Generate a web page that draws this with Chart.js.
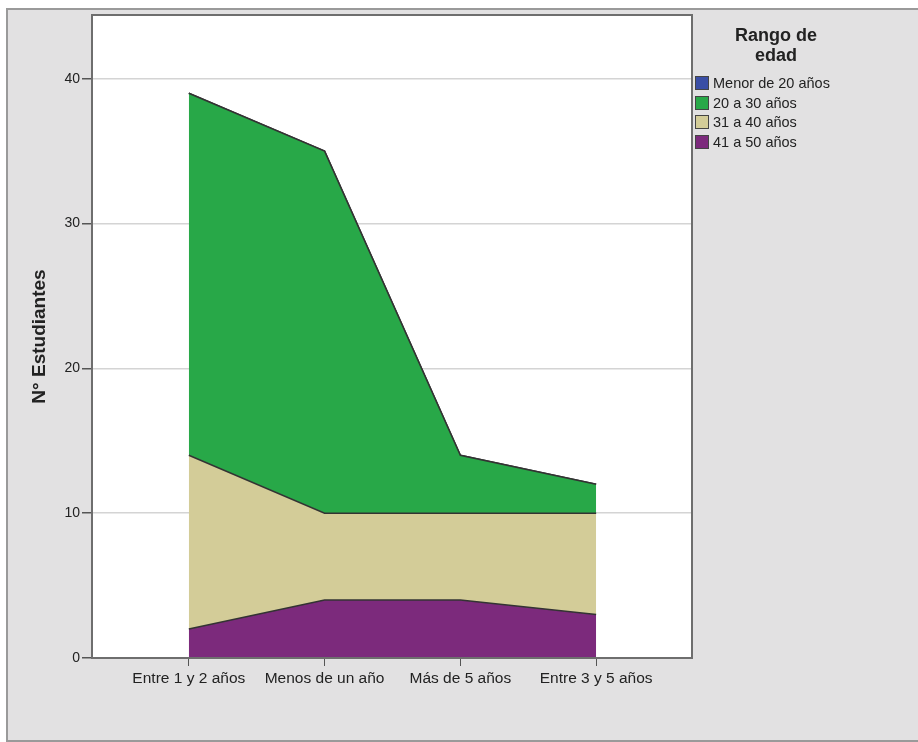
<!DOCTYPE html>
<html>
<head>
<meta charset="utf-8">
<script src="https://cdn.jsdelivr.net/npm/chart.js@4"></script>
<style>
  body { margin: 0; background: #fff; }
  #panel {
    position: absolute; left: 6px; top: 8px; width: 910px; height: 730px;
    background: #e2e1e2; border-top: 2px solid #9a9a9a; border-left: 2px solid #9a9a9a;
    border-bottom: 2px solid #9a9a9a;
  }
  #legend {
    position: absolute; left: 687px; top: 15px; width: 220px;
    font-family: "Liberation Sans", Arial, sans-serif; color: #222;
  }
  #legend .title { width: 162px; text-align: center; font-weight: bold; font-size: 18px; line-height: 20px; margin-bottom: 8px; }
  #legend .item { height: 19.7px; font-size: 14.5px; display: flex; align-items: center; }
  #legend .box { width: 12px; height: 12px; border: 1px solid #444; margin-right: 4px; }
</style>
</head>
<body>
<div id="panel">
  <canvas id="myChart" width="910" height="730"></canvas>
  <div id="legend"></div>
</div>
<script>
// datos
var categorias = ["Entre 1 y 2 años", "Menos de un año", "Más de 5 años", "Entre 3 y 5 años"];
var menor20 = [0, 0, 0, 0];
var de20a30 = [25, 25, 4, 2];
var de31a40 = [12, 6, 6, 7];
var de41a50 = [2, 4, 4, 3];
var ticksY = [0, 10, 20, 30, 40];

var series = [
  { label: "41 a 50 años", data: de41a50, color: "rgb(124, 42, 124)" },
  { label: "31 a 40 años", data: de31a40, color: "rgb(211, 204, 152)" },
  { label: "20 a 30 años", data: de20a30, color: "rgb(40, 168, 72)" },
  { label: "Menor de 20 años", data: menor20, color: "rgb(58, 78, 165)" }
];

var fondoPlot = {
  id: "fondoPlot",
  beforeDraw: function (chart) {
    var a = chart.chartArea, c = chart.ctx;
    c.save();
    c.fillStyle = "#fff";
    c.fillRect(a.left, a.top, a.right - a.left, a.bottom - a.top);
    c.restore();
  },
  afterDraw: function (chart) {
    var a = chart.chartArea, c = chart.ctx;
    c.save();
    c.strokeStyle = "#6e6e6e";
    c.lineWidth = 2;
    c.strokeRect(a.left, a.top, a.right - a.left, a.bottom - a.top);
    c.restore();
  }
};

var ctx = document.getElementById("myChart").getContext("2d");
var myChart = new Chart(ctx, {
  type: "line",
  data: {
    datasets: series.map(function (s, i) {
      return {
        label: s.label,
        data: s.data.map(function (v, j) { return { x: j, y: v }; }),
        backgroundColor: s.color,
        borderColor: "#333",
        borderWidth: 1.5,
        pointRadius: 0,
        tension: 0,
        fill: i === 0 ? "origin" : "-1"
      };
    })
  },
  options: {
    responsive: false,
    animation: false,
    layout: { padding: { top: 5, right: 226, left: 0, bottom: 0 } },
    plugins: { legend: { display: false }, tooltip: { enabled: false } },
    scales: {
      x: {
        type: "linear",
        min: -0.713,
        max: 3.706,
        afterBuildTicks: function (scale) {
          scale.ticks = categorias.map(function (c, i) { return { value: i }; });
        },
        afterFit: function (scale) {
          scale.height = 82;
          scale.paddingLeft = 0;
          scale.paddingRight = 0;
        },
        ticks: {
          callback: function (v) { return categorias[v]; },
          color: "#222",
          maxRotation: 0,
          autoSkip: false,
          padding: 3,
          font: { family: "Liberation Sans, Arial", size: 15.5 }
        },
        grid: { drawOnChartArea: false, drawTicks: true, tickLength: 8, color: "#555" },
        border: { display: true, color: "#6e6e6e", width: 2 }
      },
      y: {
        stacked: true,
        min: 0,
        max: 44.4,
        afterBuildTicks: function (scale) {
          scale.ticks = ticksY.map(function (v) { return { value: v }; });
        },
        afterFit: function (scale) {
          scale.width = 84;
          scale.paddingTop = 0;
          scale.paddingBottom = 0;
        },
        ticks: {
          color: "#222",
          padding: 2,
          font: { family: "Liberation Sans, Arial", size: 14 }
        },
        grid: { color: "#d4d4d4", lineWidth: 1.5, tickLength: 10, tickColor: "#555", drawTicks: true },
        border: { display: true, color: "#6e6e6e", width: 2 },
        title: {
          display: true,
          text: "N° Estudiantes",
          color: "#222",
          font: { family: "Liberation Sans, Arial", size: 19, weight: "bold" },
          padding: { top: 20, bottom: 0 }
        }
      }
    }
  },
  plugins: [fondoPlot]
});

// leyenda
var leg = document.getElementById("legend");
var html = '<div class="title">Rango de<br>edad</div>';
series.slice().reverse().forEach(function (s) {
  html += '<div class="item"><span class="box" style="background:' + s.color + '"></span>' + s.label + '</div>';
});
leg.innerHTML = html;
</script>
</body>
</html>
